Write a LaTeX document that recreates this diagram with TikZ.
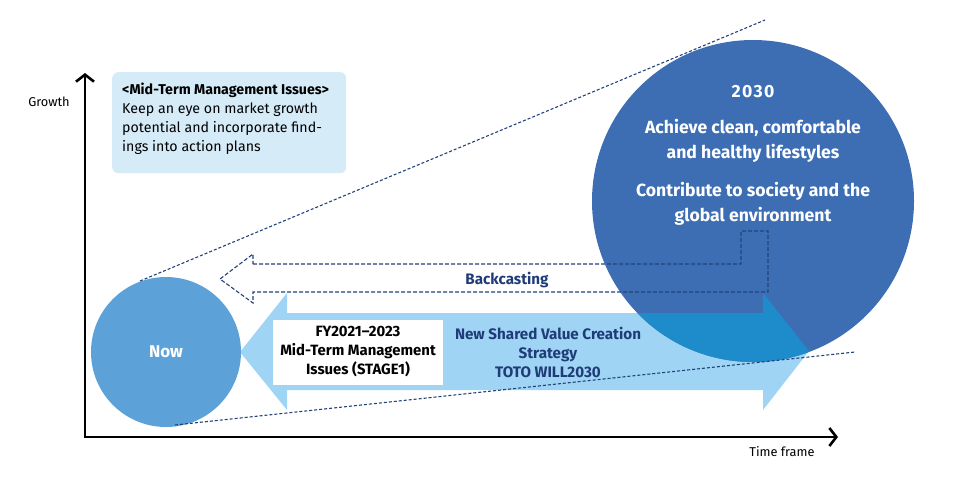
\documentclass[tikz,border=0pt]{standalone}
\usepackage{fontspec}
\setmainfont{Fira Sans}
\usetikzlibrary{arrows.meta}
\definecolor{navy}{HTML}{1F3C78}
\definecolor{dashc}{HTML}{22427A}
\definecolor{bigblue}{HTML}{3D6EB4}
\definecolor{nowblue}{HTML}{5CA2D9}
\definecolor{lightarrow}{HTML}{9FD4F4}
\definecolor{overlap}{HTML}{1E8BCB}
\definecolor{boxblue}{HTML}{D5EBF8}
\tikzset{
  tangent/.style={draw=dashc, dash pattern=on 3pt off 2pt, line width=1.1pt},
  backcast/.style={draw=dashc, dash pattern=on 4pt off 2pt, line width=1.1pt},
  axis/.style={line width=2.6pt, -{Straight Barb[length=7pt,width=18pt,line width=2.6pt]}},
  axislabel/.style={font=\fontsize{12.8}{15}\selectfont, text=black},
  navytext/.style={font=\bfseries\fontsize{15.2}{19}\selectfont, text=navy, align=center},
  whitetext/.style={font=\bfseries\fontsize{17.6}{25}\selectfont, text=white, align=center}
}
\begin{document}
\begin{tikzpicture}[x=1pt,y=-1pt]
\useasboundingbox (0,0) rectangle (963,480);
% mid-term box
\node[fill=boxblue, rounded corners=6pt, minimum width=234pt, minimum height=101pt, anchor=north west, inner sep=0pt] (mtbox) at (112,72) {};
\node[anchor=north west, inner sep=0pt, align=left, font=\fontsize{14.2}{19}\selectfont, text=black] (mttext) at (122,83)
  {\textbf{<Mid-Term Management Issues>}\\Keep an eye on market growth\\potential and incorporate find-\\ings into action plans};
% light blue double arrow
\path[fill=lightarrow] (240,352) -- (287,293) -- (287,313) -- (763,313) -- (763,293) -- (809,351) -- (763,410) -- (763,390) -- (287,390) -- (287,410) -- cycle;
% big circle
\node[circle, fill=bigblue, minimum size=322pt, inner sep=0pt] (big) at (753,201) {};
\begin{scope}
  \clip (753,201) circle (161pt);
  \path[fill=overlap] (240,352) -- (287,293) -- (287,313) -- (763,313) -- (763,293) -- (809,351) -- (763,410) -- (763,390) -- (287,390) -- (287,410) -- cycle;
\end{scope}
% now circle
\node[circle, fill=nowblue, minimum size=150pt, inner sep=0pt, text=white, font=\bfseries\fontsize{17}{20}\selectfont] (now) at (166,352) {Now};
% tangent dashed lines
\coordinate (t1a) at (140,281);
\coordinate (t1b) at (765,20);
\coordinate (t2a) at (175,425);
\coordinate (t2b) at (855,352);
\draw[tangent] (t1a) -- (t1b);
\draw[tangent] (t2a) -- (t2b);
% backcasting outline arrow
\draw[backcast] (253,264) -- (741,264) -- (741,231) -- (768,231) -- (768,292) -- (253,292) -- (253,303) -- (220,279) -- (253,254) -- cycle;
\node[navytext] (back) at (507,280) {Backcasting};
% white box
\node[fill=white, minimum width=170pt, minimum height=65pt, inner sep=0pt, align=center, font=\bfseries\fontsize{14.9}{19}\selectfont, text=black] (fy) at (358,352)
  {FY2021--2023\\Mid-Term Management\\Issues (STAGE1)};
\node[navytext] (nsv) at (548,352) {New Shared Value Creation\\Strategy\\TOTO WILL2030};
% big circle text
\node[whitetext, font=\bfseries\fontsize{17.6}{25}\selectfont\addfontfeature{LetterSpace=8}] (y2030) at (753,92) {2030};
\node[whitetext] (ach) at (753,140.5) {Achieve clean, comfortable\\and healthy lifestyles};
\node[whitetext] (con) at (753,203.5) {Contribute to society and the\\global environment};
% axes
\coordinate (origin) at (85,437);
\coordinate (ytip) at (85,73);
\coordinate (xtip) at (838,437);
\draw[axis] (origin) -- (ytip);
\draw[axis] ([xshift=-1.3pt]origin) -- (xtip);
\node[axislabel] (growth) at (49,102) {Growth};
\node[axislabel] (time) at (782,452) {Time frame};
\end{tikzpicture}
\end{document}
